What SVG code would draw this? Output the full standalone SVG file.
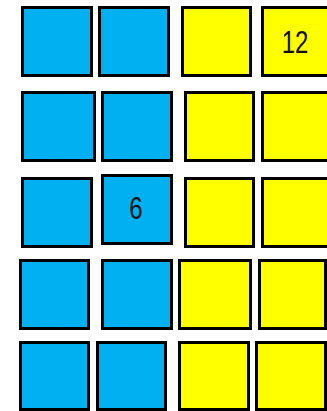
<svg xmlns="http://www.w3.org/2000/svg" width="327" height="411" viewBox="0 0 327 411">
<style>
.b{fill:#00B0F0;stroke:#000;stroke-width:3}
.y{fill:#FFFF00;stroke:#000;stroke-width:3}
.t{font-family:"Liberation Sans",Arial,sans-serif;font-size:32px;fill:#111;text-anchor:middle}
</style>
<rect width="327" height="411" fill="#fff"/>
<g id="r1a"><rect class="b" x="22.5" y="7.5" width="69" height="68"/></g>
<g id="r1b"><rect class="b" x="99.5" y="7.5" width="69" height="68"/></g>
<g id="r1c"><rect class="y" x="182.5" y="7.5" width="68" height="68"/></g>
<g id="r1d"><rect class="y" x="262.5" y="7.5" width="70" height="68"/><text class="t" transform="translate(295,53) scale(0.75,1)">12</text></g>
<g id="r2a"><rect class="b" x="22.5" y="92.5" width="72" height="68"/></g>
<g id="r2b"><rect class="b" x="102.5" y="92.5" width="69" height="68"/></g>
<g id="r2c"><rect class="y" x="185.5" y="92.5" width="68" height="68"/></g>
<g id="r2d"><rect class="y" x="262.5" y="92.5" width="70" height="68"/></g>
<g id="r3a"><rect class="b" x="22.5" y="178.5" width="69" height="68"/></g>
<g id="r3b"><rect class="b" x="102.5" y="175.5" width="69" height="68"/><text class="t" transform="translate(136,219) scale(0.75,1)">6</text></g>
<g id="r3c"><rect class="y" x="185.5" y="178.5" width="68" height="68"/></g>
<g id="r3d"><rect class="y" x="262.5" y="178.5" width="70" height="68"/></g>
<g id="r4a"><rect class="b" x="20.5" y="260.5" width="68" height="68"/></g>
<g id="r4b"><rect class="b" x="102.5" y="260.5" width="69" height="68"/></g>
<g id="r4c"><rect class="y" x="179.5" y="260.5" width="71" height="68"/></g>
<g id="r4d"><rect class="y" x="259.5" y="260.5" width="66" height="68"/></g>
<g id="r5a"><rect class="b" x="20.5" y="342.5" width="68" height="67"/></g>
<g id="r5b"><rect class="b" x="97.5" y="342.5" width="68" height="67"/></g>
<g id="r5c"><rect class="y" x="179.5" y="342.5" width="69" height="67"/></g>
<g id="r5d"><rect class="y" x="256.5" y="342.5" width="69" height="67"/></g>
<g id="connectors"/>
</svg>
